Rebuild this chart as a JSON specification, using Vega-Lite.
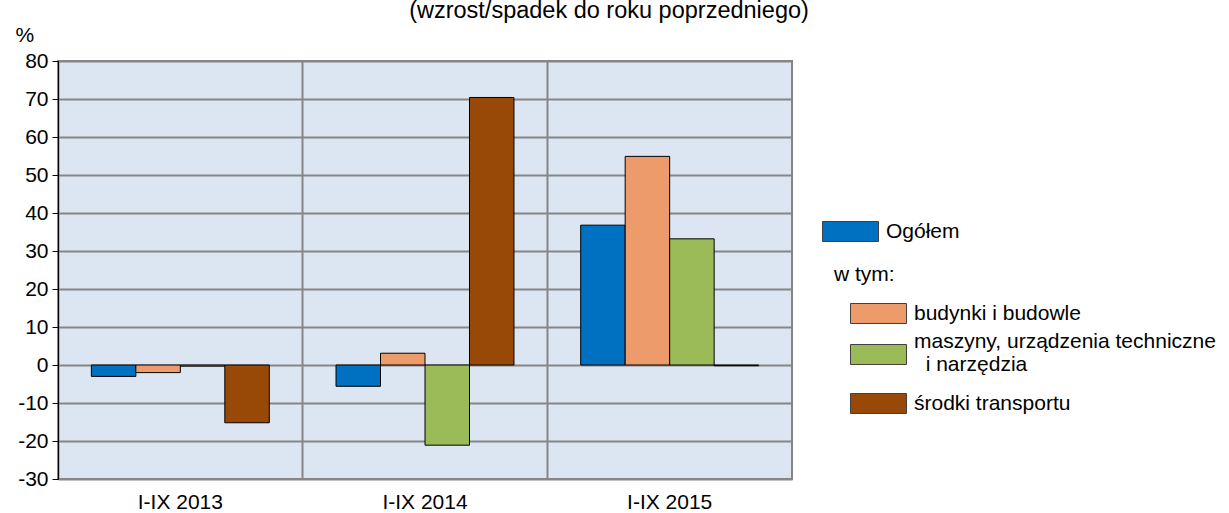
{
  "$schema": "https://vega.github.io/schema/vega-lite/v6.json",
  "autosize": "none",
  "width": 734,
  "height": 418,
  "padding": {"left": 58, "top": 61, "right": 437, "bottom": 34},
  "background": "white",
  "config": {
    "font": "Liberation Sans",
    "view": {"fill": "#DCE6F2", "stroke": "#868686", "strokeWidth": 2}
  },
  "title": {
    "text": "(wzrost/spadek do roku poprzedniego)",
    "fontSize": 23.5,
    "fontWeight": "normal",
    "color": "#000",
    "anchor": "middle",
    "dx": 184,
    "dy": 30,
    "baseline": "bottom",
    "offset": 8
  },
  "data": {
    "values": [
      {"period": "I-IX 2013", "series": "Ogółem", "value": -3.0},
      {"period": "I-IX 2013", "series": "budynki i budowle", "value": -2.0},
      {"period": "I-IX 2013", "series": "maszyny, urządzenia techniczne i narzędzia", "value": -0.3},
      {"period": "I-IX 2013", "series": "środki transportu", "value": -15.2},
      {"period": "I-IX 2014", "series": "Ogółem", "value": -5.6},
      {"period": "I-IX 2014", "series": "budynki i budowle", "value": 3.1},
      {"period": "I-IX 2014", "series": "maszyny, urządzenia techniczne i narzędzia", "value": -21.1},
      {"period": "I-IX 2014", "series": "środki transportu", "value": 70.4},
      {"period": "I-IX 2015", "series": "Ogółem", "value": 36.8},
      {"period": "I-IX 2015", "series": "budynki i budowle", "value": 54.9},
      {"period": "I-IX 2015", "series": "maszyny, urządzenia techniczne i narzędzia", "value": 33.2},
      {"period": "I-IX 2015", "series": "środki transportu", "value": -0.2}
    ]
  },
  "mark": {"type": "bar", "stroke": "#000", "strokeWidth": 1},
  "encoding": {
    "x": {
      "field": "period",
      "type": "nominal",
      "scale": {"paddingInner": 0, "paddingOuter": 0},
      "axis": {
        "title": null,
        "labelAngle": 0,
        "labelFontSize": 21,
        "labelColor": "#000",
        "labelPadding": 12,
        "ticks": false,
        "domain": false,
        "grid": true,
        "gridColor": "#868686",
        "gridWidth": 2,
        "bandPosition": 0
      }
    },
    "xOffset": {
      "field": "series",
      "sort": ["Ogółem", "budynki i budowle", "maszyny, urządzenia techniczne i narzędzia", "środki transportu"],
      "scale": {"paddingInner": 0, "paddingOuter": 0.75}
    },
    "y": {
      "field": "value",
      "type": "quantitative",
      "scale": {"domain": [-30, 80], "nice": false},
      "axis": {
        "title": "%",
        "titleAngle": 0,
        "titleX": -43,
        "titleY": -26,
        "titleAlign": "left",
        "titleBaseline": "middle",
        "titleFontSize": 21,
        "titleFontWeight": "normal",
        "titleColor": "#000",
        "values": [-30, -20, -10, 0, 10, 20, 30, 40, 50, 60, 70, 80],
        "labelExpr": "'' + datum.value",
        "labelFontSize": 21,
        "labelColor": "#000",
        "labelPadding": 4,
        "tickColor": "#000",
        "tickSize": 6,
        "domainColor": "#000",
        "gridColor": "#868686",
        "gridWidth": 2
      }
    },
    "color": {
      "field": "series",
      "type": "nominal",
      "scale": {
        "domain": ["Ogółem", "w tym:", "budynki i budowle", "maszyny, urządzenia techniczne i narzędzia", "środki transportu"],
        "range": ["#0070C0", "transparent", "#EE9B6B", "#9BBB59", "#984807"]
      },
      "legend": {
        "title": null,
        "orient": "none",
        "legendX": 792,
        "legendY": 142,
        "padding": 0,
        "symbolType": "M-1,-0.357L1,-0.357L1,0.357L-1,0.357Z",
        "symbolSize": 3136,
        "symbolStrokeColor": "#404040",
        "symbolStrokeWidth": 1,
        "symbolOpacity": 1,
        "labelFontSize": 21,
        "labelColor": "#000",
        "labelOffset": 7,
        "labelLimit": 500,
        "rowPadding": -0.5,
        "labelExpr": "datum.label === 'maszyny, urządzenia techniczne i narzędzia' ? ['maszyny, urządzenia techniczne', '\u200b\u00a0\u00a0i narzędzia'] : datum.label",
        "encode": {
          "symbols": {
            "update": {
              "shape": {"signal": "datum.label === 'Ogółem' ? 'M-2,-0.357L0,-0.357L0,0.357L-2,0.357Z' : datum.label === 'w tym:' ? 'M0,0Z' : 'M-1,-0.357L1,-0.357L1,0.357L-1,0.357Z'"},
              "fill": {"signal": "datum.label === 'maszyny, urządzenia techniczne i narzędzia' ? '#77933C' : datum.label === 'w tym:' ? 'transparent' : scale('color', datum.value)"},
              "stroke": {"signal": "datum.label === 'w tym:' ? 'transparent' : '#404040'"}
            }
          },
          "labels": {
            "update": {
              "dx": {"signal": "datum.label === 'Ogółem' ? -28 : datum.label === 'w tym:' ? -80 : 0"},
              "dy": {"signal": "datum.label === 'w tym:' ? 2 : datum.label === 'maszyny, urządzenia techniczne i narzędzia' ? -13 : 0"}
            }
          }
        }
      }
    }
  }
}
